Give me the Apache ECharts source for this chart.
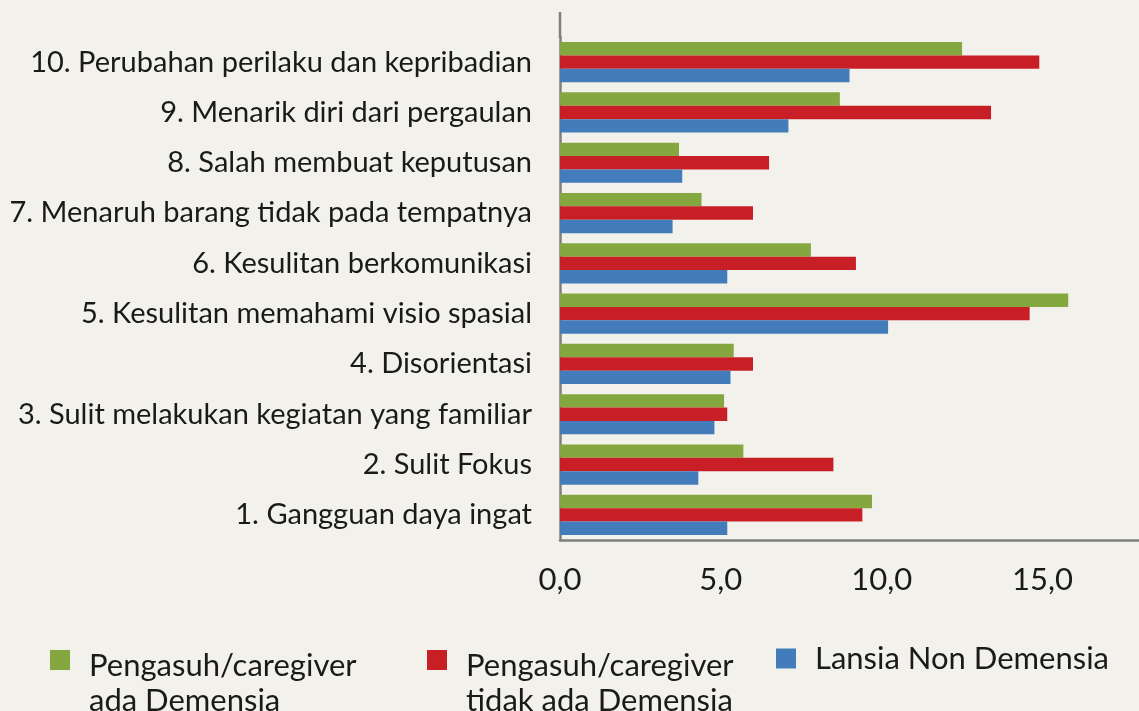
<!DOCTYPE html>
<html>
<head>
<meta charset="utf-8">
<script src="https://cdn.jsdelivr.net/npm/echarts@6/dist/echarts.min.js"></script>
<style>
  html, body { margin: 0; padding: 0; background: #f2f1eb; }
  #chart { width: 1139px; height: 711px; }
</style>
</head>
<body>
<div id="chart"></div>
<script>
const categories = [
  '1. Gangguan daya ingat',
  '2. Sulit Fokus',
  '3. Sulit melakukan kegiatan yang familiar',
  '4. Disorientasi',
  '5. Kesulitan memahami visio spasial',
  '6. Kesulitan berkomunikasi',
  '7. Menaruh barang tidak pada tempatnya',
  '8. Salah membuat keputusan',
  '9. Menarik diri dari pergaulan',
  '10. Perubahan perilaku dan kepribadian'
]
const caregiverDementia = [9.7, 5.7, 5.1, 5.4, 15.8, 7.8, 4.4, 3.7, 8.7, 12.5]
const caregiverNoDementia = [9.4, 8.5, 5.2, 6.0, 14.6, 9.2, 6.0, 6.5, 13.4, 14.9]
const elderlyNonDementia = [5.2, 4.3, 4.8, 5.3, 10.2, 5.2, 3.5, 3.8, 7.1, 9.0]
const seriesNames = [
  'Pengasuh/caregiver\nada Demensia',
  'Pengasuh/caregiver\ntidak ada Demensia',
  'Lansia Non Demensia'
]
const colors = ['#84a83f', '#c81f26', '#437cbb']

const font = 'Lato, "Open Sans", sans-serif'
const axisGray = '#7f7f7f'

// legend text is centred on the icon; an empty spacer line on top of the
// two-line names drops the first line down level with the square
const legendBase = (name, left, twoLines) => ({
  left: left,
  top: twoLines ? 620 : 643,
  padding: 0,
  itemWidth: 20,
  itemHeight: 20,
  icon: 'rect',
  data: [name],
  formatter: n => twoLines
    ? '{s| }\n' + n.split('\n').map(l => '{t|' + l + '}').join('\n')
    : '{t|' + n + '}',
  textStyle: {
    color: '#1a1a1a',
    fontSize: 31,
    fontFamily: font,
    padding: [0, 0, 0, 14],
    rich: {
      s: { fontSize: 10, lineHeight: 47 },
      t: { fontSize: 31, fontFamily: font, color: '#1a1a1a', lineHeight: 35 }
    }
  }
})

const chart = echarts.init(document.getElementById('chart'), null, { renderer: 'canvas' })

chart.setOption({
  backgroundColor: '#f2f1eb',
  animation: false,
  color: colors,
  legend: [
    legendBase(seriesNames[0], 50, true),
    legendBase(seriesNames[1], 427, true),
    legendBase(seriesNames[2], 776, false)
  ],
  grid: { left: 560, top: 37, width: 579, height: 503 },
  xAxis: {
    type: 'value',
    min: 0,
    max: 18,
    interval: 5,
    axisLine: { show: true, lineStyle: { color: axisGray, width: 2.5 } },
    axisTick: { show: false },
    splitLine: { show: false },
    axisLabel: {
      showMaxLabel: false,
      margin: 24,
      color: '#1a1a1a',
      fontSize: 31,
      fontFamily: font,
      formatter: v => v.toFixed(1).replace('.', ',')
    }
  },
  yAxis: {
    type: 'category',
    data: categories,
    axisLine: { show: true, lineStyle: { color: axisGray, width: 2.5 } },
    axisTick: { show: false },
    axisLabel: { margin: 28, color: '#1a1a1a', fontSize: 29, fontFamily: font }
  },
  graphic: [{
    type: 'line',
    shape: { x1: 560, y1: 12, x2: 560, y2: 38 },
    style: { stroke: axisGray, lineWidth: 2.5 }
  }],
  series: [
    { name: seriesNames[0], type: 'bar', data: caregiverDementia, barGap: '0%', barCategoryGap: '20%' },
    { name: seriesNames[1], type: 'bar', data: caregiverNoDementia, barGap: '0%', barCategoryGap: '20%' },
    { name: seriesNames[2], type: 'bar', data: elderlyNonDementia, barGap: '0%', barCategoryGap: '20%' }
  ]
})
</script>
</body>
</html>
